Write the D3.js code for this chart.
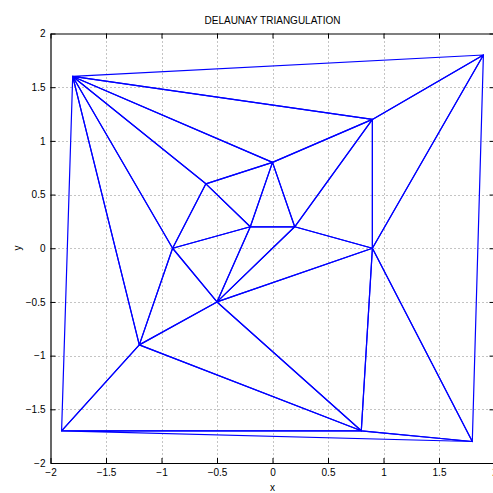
<!DOCTYPE html>
<html>
<head>
<meta charset="utf-8">
<script src="https://cdn.jsdelivr.net/npm/d3@7"></script>
<style>
  html, body { margin: 0; padding: 0; background: #fff; overflow: hidden; }
  svg { display: block; }
  text { font-family: "Liberation Sans", Arial, Helvetica, sans-serif; }
</style>
</head>
<body>
<svg id="chart" width="493" height="493"></svg>
<script>
// Data
const pointX = [-1.8, 1.9, 0.9, 0.0, -0.6, -0.2, 0.2, -0.9, 0.9, -0.5, -1.2, -1.9, 0.8, 1.8];
const pointY = [ 1.6, 1.8, 1.2, 0.8,  0.6,  0.2, 0.2,  0.0, 0.0, -0.5, -0.9, -1.7, -1.7, -1.8];
// Triangles as point indices
const triA = [0, 0, 0, 0, 0, 0, 1, 1, 2, 2, 3, 3, 4, 5, 5, 6, 7, 9, 9, 8, 10, 11];
const triB = [1, 2, 3, 4, 7, 10, 2, 8, 3, 6, 4, 5, 5, 7, 6, 8, 9, 10, 8, 12, 11, 12];
const triC = [2, 3, 4, 7, 10, 11, 8, 13, 6, 8, 5, 6, 7, 9, 9, 9, 10, 12, 12, 13, 12, 13];
const xTicks = [-2, -1.5, -1, -0.5, 0, 0.5, 1, 1.5, 2];
const yTicks = [-2, -1.5, -1, -0.5, 0, 0.5, 1, 1.5, 2];
const titleText = "DELAUNAY TRIANGULATION";
const xLabel = "x";
const yLabel = "y";

const svg = d3.select("#chart");
const pLeft = 50.5, pRight = 494.5, pTop = 33.5, pBottom = 463;
const x = d3.scaleLinear().domain([-2, 2]).range([pLeft, pRight]);
const y = d3.scaleLinear().domain([-2, 2]).range([pBottom, pTop]);
const fmt = v => (v < 0 ? "\u2212" : "") + d3.format("~g")(Math.abs(v));

// grid
const grid = svg.append("g");
grid.selectAll("line.gx").data(xTicks.slice(1, -1)).join("line")
  .attr("x1", d => Math.round(x(d)) + 0.5).attr("x2", d => Math.round(x(d)) + 0.5)
  .attr("y1", pTop).attr("y2", pBottom)
  .attr("stroke", "#888").attr("stroke-width", 1).attr("stroke-dasharray", "1,3");
grid.selectAll("line.gy").data(yTicks.slice(1, -1)).join("line")
  .attr("y1", d => Math.round(y(d)) + 0.5).attr("y2", d => Math.round(y(d)) + 0.5)
  .attr("x1", pLeft).attr("x2", pRight)
  .attr("stroke", "#888").attr("stroke-width", 1).attr("stroke-dasharray", "1,3");

// triangles
const tris = triA.map((a, i) => [a, triB[i], triC[i]]);
svg.append("g").selectAll("path").data(tris).join("path")
  .attr("d", t => d3.line()(t.map(i => [x(pointX[i]), y(pointY[i])])) + "Z")
  .attr("fill", "none").attr("stroke", "#0000ff").attr("stroke-width", 1.2)
  .attr("stroke-linejoin", "round");

// axes
const axB = svg.append("g").attr("transform", `translate(0,${pBottom})`)
  .call(d3.axisBottom(x).tickValues(xTicks).tickFormat(fmt).tickSizeInner(-5).tickSizeOuter(0).tickPadding(6));
const axT = svg.append("g").attr("transform", `translate(0,${pTop})`)
  .call(d3.axisTop(x).tickValues(xTicks).tickFormat("").tickSizeInner(-5).tickSizeOuter(0));
const axL = svg.append("g").attr("transform", `translate(${pLeft},0)`)
  .call(d3.axisLeft(y).tickValues(yTicks).tickFormat(fmt).tickSizeInner(-5).tickSizeOuter(0).tickPadding(5));
const axR = svg.append("g").attr("transform", `translate(${pRight},0)`)
  .call(d3.axisRight(y).tickValues(yTicks).tickFormat("").tickSizeInner(-5).tickSizeOuter(0));
[axB, axT, axL, axR].forEach(g => {
  g.selectAll("path.domain").attr("stroke", "#000").attr("stroke-width", 1.2);
  g.selectAll(".tick line").attr("stroke", "#000");
  g.selectAll("text").attr("font-size", 10).attr("fill", "#000")
    .attr("font-family", "'Liberation Sans', Arial, sans-serif");
});
axB.selectAll("text").attr("dy", "0.71em");

// title and labels
svg.append("text").attr("x", 272.5).attr("y", 24).attr("text-anchor", "middle")
  .attr("font-size", 10).text(titleText);
svg.append("text").attr("x", 272.5).attr("y", 491).attr("text-anchor", "middle")
  .attr("font-size", 10).text(xLabel);
svg.append("text").attr("transform", "translate(21,248) rotate(-90)").attr("text-anchor", "middle")
  .attr("font-size", 10).text(yLabel);
</script>
</body>
</html>
